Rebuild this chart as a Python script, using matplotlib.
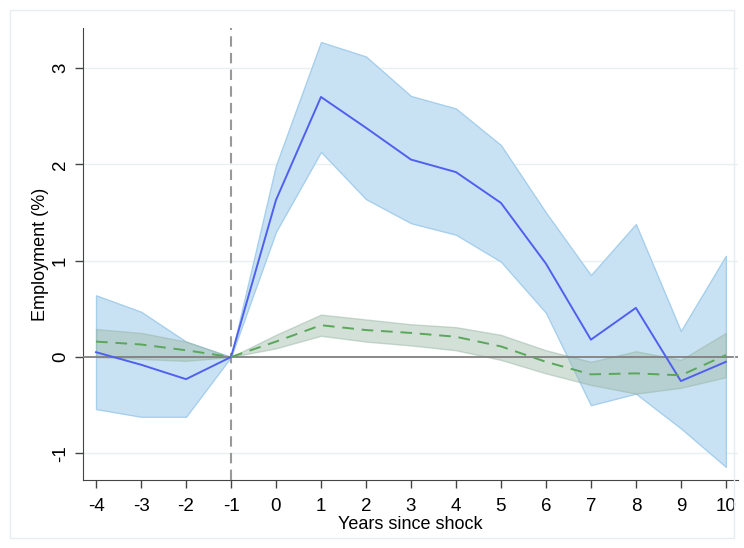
import numpy as np
import matplotlib
matplotlib.use("Agg")
import matplotlib.pyplot as plt
from matplotlib.patches import Rectangle

plt.rcParams['font.family'] = ['Liberation Sans', 'DejaVu Sans']
plt.rcParams['axes.unicode_minus'] = False

years = [-4, -3, -2, -1, 0, 1, 2, 3, 4, 5, 6, 7, 8, 9, 10]

# blue series + CI
emp = [0.05, -0.08, -0.23, 0.0, 1.63, 2.70, 2.38, 2.05, 1.92, 1.60, 0.97, 0.18, 0.51, -0.25, -0.05]
emp_hi = [0.64, 0.47, 0.16, 0.0, 1.99, 3.27, 3.12, 2.71, 2.58, 2.20, 1.50, 0.85, 1.38, 0.27, 1.05]
emp_lo = [-0.54, -0.62, -0.62, 0.0, 1.30, 2.13, 1.64, 1.39, 1.27, 0.99, 0.46, -0.50, -0.38, -0.74, -1.14]

# green dashed series + CI
ctl = [0.16, 0.13, 0.07, 0.0, 0.16, 0.33, 0.28, 0.25, 0.21, 0.11, -0.05, -0.18, -0.17, -0.19, 0.02]
ctl_hi = [0.29, 0.25, 0.16, 0.0, 0.23, 0.44, 0.39, 0.34, 0.31, 0.23, 0.07, -0.05, 0.06, -0.03, 0.25]
ctl_lo = [0.0, -0.02, -0.04, 0.0, 0.09, 0.22, 0.16, 0.12, 0.07, -0.03, -0.17, -0.29, -0.38, -0.32, -0.21]

fig = plt.figure(figsize=(7.44, 5.48), dpi=100)
fig.patches.append(Rectangle((10/744, 10/548), 724/744, 528/548, transform=fig.transFigure,
                             fill=False, edgecolor='#e6edf1', lw=1))
ax = fig.add_axes([83/744, 1-480/548, 655/744, 452/548])

for v in [-1, 1, 2, 3]:
    ax.axhline(v, color='#e9f0f4', lw=1, zorder=0)

ax.fill_between(years, emp_lo, emp_hi, color='#c9e2f3', edgecolor='#a6cfec', lw=1, zorder=1)
ax.fill_between(years, ctl_lo, ctl_hi, color='#9fbcaa', alpha=0.45, edgecolor='#93b2a1', lw=1, zorder=2)
ax.axhline(0, color='#808080', lw=1.3, zorder=3)
ax.axvline(-1, color='#999999', lw=1.5, ls=(0, (5, 3)), zorder=3)
ax.plot(years, emp, color='#5060ee', lw=1.4, zorder=4)
ax.plot(years, ctl, color='#5aa65a', lw=1.4, ls=(0, (6, 4)), zorder=4)

ax.set_xlim(-4.29, 10.27)
ax.set_ylim(-1.277, 3.416)
ax.set_xticks(years)
ax.set_yticks([-1, 0, 1, 2, 3])
ax.tick_params(axis='both', direction='out', length=6, width=1, color='#444444', labelsize=13.5)
ax.tick_params(axis='x', pad=7)
ax.tick_params(axis='y', pad=4)
for lab in ax.get_yticklabels():
    lab.set_rotation(90)
    lab.set_va('center')
ax.set_xlabel('Years since shock', fontsize=13, labelpad=1)
ax.set_ylabel('Employment (%)', fontsize=13, labelpad=2)
ax.spines['top'].set_visible(False)
ax.spines['right'].set_visible(False)
ax.spines['left'].set_color('#444444')
ax.spines['bottom'].set_color('#444444')

fig.savefig('out.png', dpi=100)
